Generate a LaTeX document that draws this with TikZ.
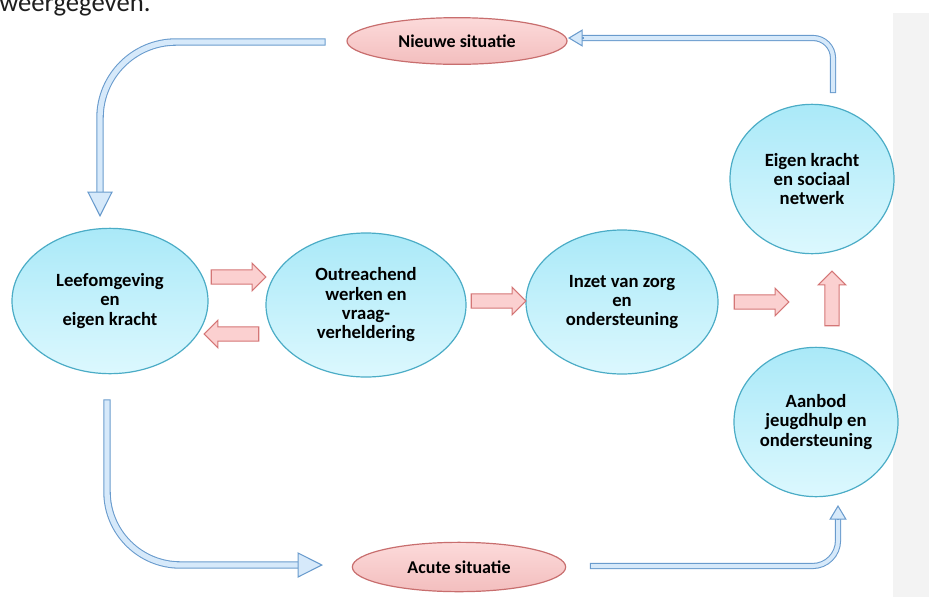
\documentclass[tikz,border=0pt]{standalone}
\usepackage{fontspec}
\setmainfont{Carlito}
\usepackage{xcolor}
\usetikzlibrary{shapes.geometric,shapes.arrows,arrows.meta,calc}

\definecolor{ovalEdge}{RGB}{75,172,198}
\definecolor{ovalTop}{RGB}{170,233,248}
\definecolor{ovalBottom}{RGB}{220,248,254}
\definecolor{roseEdge}{RGB}{200,110,110}
\definecolor{roseTop}{RGB}{252,218,218}
\definecolor{roseBottom}{RGB}{243,190,190}
\definecolor{pushEdge}{RGB}{212,118,118}
\definecolor{pushFill}{RGB}{251,208,208}
\definecolor{flowEdge}{RGB}{105,155,205}
\definecolor{flowFill}{RGB}{214,233,250}
\definecolor{bandGrey}{RGB}{243,243,243}
\definecolor{headText}{RGB}{30,30,30}

\begin{document}
\begin{tikzpicture}[x=0.75pt,y=0.75pt,yscale=-1,xscale=1,
	stage/.style={ellipse, draw=ovalEdge, line width=0.9pt, top color=ovalTop, bottom color=ovalBottom, inner sep=0pt, align=center, font=\bfseries\fontsize{14}{14.5}\selectfont},
	situation/.style={ellipse, draw=roseEdge, line width=0.9pt, top color=roseTop, bottom color=roseBottom, inner sep=0pt, font=\bfseries\fontsize{13.5}{14}\selectfont},
	push/.style={single arrow, draw=pushEdge, line width=0.8pt, fill=pushFill, inner sep=0pt, text height=5pt, text depth=5pt, minimum height=41pt, minimum width=0pt, single arrow head extend=5pt},
	flow/.style={draw=flowEdge, line width=0.8pt, double=flowFill, double distance=4pt, line cap=rect},
	flowhead/.style={draw=flowEdge, line width=0.8pt, -{Triangle[length=19pt,width=19pt,fill=flowFill]}},
	smallhead/.style={draw=flowEdge, line width=0.8pt, -{Triangle[length=11pt,width=13pt,fill=flowFill]}}
	]
	\useasboundingbox (0,0) rectangle (929,597);
	
	%Shape: Rectangle [grey band]
	\fill[bandGrey] (893,13) rectangle (929,597);
	
	% Text Node
	\node[anchor=base west, inner sep=0pt, text=headText, font=\fontsize{20}{20}\selectfont] (kop) at (-1,11) {weergegeven.};
	
	%Shape: Ellipse [situations]
	\node[situation, minimum width=165pt, minimum height=35pt] (nieuw) at (457,41) {Nieuwe situatie};
	\node[situation, minimum width=160pt, minimum height=37pt] (acuut) at (459,567) {Acute situatie};
	
	%Shape: Ellipse [stages]
	\node[stage, minimum width=147pt, minimum height=109pt] (leef) at (110,301) {Leefomgeving\\en\\eigen kracht};
	\node[stage, minimum width=150pt, minimum height=108pt] (reach) at (366,305) {Outreachend\\werken en\\vraag-\\verheldering};
	\node[stage, minimum width=144pt, minimum height=108pt] (inzet) at (622,302) {Inzet van zorg\\en\\ondersteuning};
	\node[stage, minimum width=123pt, minimum height=112pt] (eigen) at (812,179) {Eigen kracht\\en sociaal\\netwerk};
	\node[stage, minimum width=123pt, minimum height=112pt] (aanbod) at (816,422) {Aanbod\\jeugdhulp en\\ondersteuning};
	
	%Shape: Right Arrow
	\node[push] (p1) at (235,277) {};
	\node[push, rotate=180] (p2) at (235,334) {};
	\node[push] (p3) at (495,301) {};
	\node[push] (p4) at (758,302) {};
	\node[push, rotate=90] (p5) at (832,302) {};
	
	%Curve Lines [top left]
	\coordinate (tlS) at (322,42);
	\coordinate (tlB) at (100,192);
	\coordinate (tlT) at (100,217);
	\draw[flow, rounded corners=57pt] (tlS) -| (tlB);
	\draw[flowhead] (tlB) -- (tlT);
	
	%Curve Lines [top right]
	\coordinate (trS) at (833,90);
	\coordinate (trB) at (584,38);
	\coordinate (trT) at (568,38);
	\draw[flow, double distance=3pt, rounded corners=15pt] (trS) |- (trB);
	\draw[smallhead] (trB) -- (trT);
	
	%Curve Lines [bottom left]
	\coordinate (blS) at (107,403);
	\coordinate (blB) at (298,565);
	\coordinate (blT) at (323,565);
	\draw[flow, rounded corners=55pt] (blS) |- (blB);
	\draw[flowhead] (blB) -- (blT);
	
	%Curve Lines [bottom right]
	\coordinate (brS) at (593,566);
	\coordinate (brB) at (838,520);
	\coordinate (brT) at (838,505);
	\draw[flow, double distance=3pt, rounded corners=19pt] (brS) -| (brB);
	\draw[smallhead] (brB) -- (brT);
	
\end{tikzpicture}
\end{document}
